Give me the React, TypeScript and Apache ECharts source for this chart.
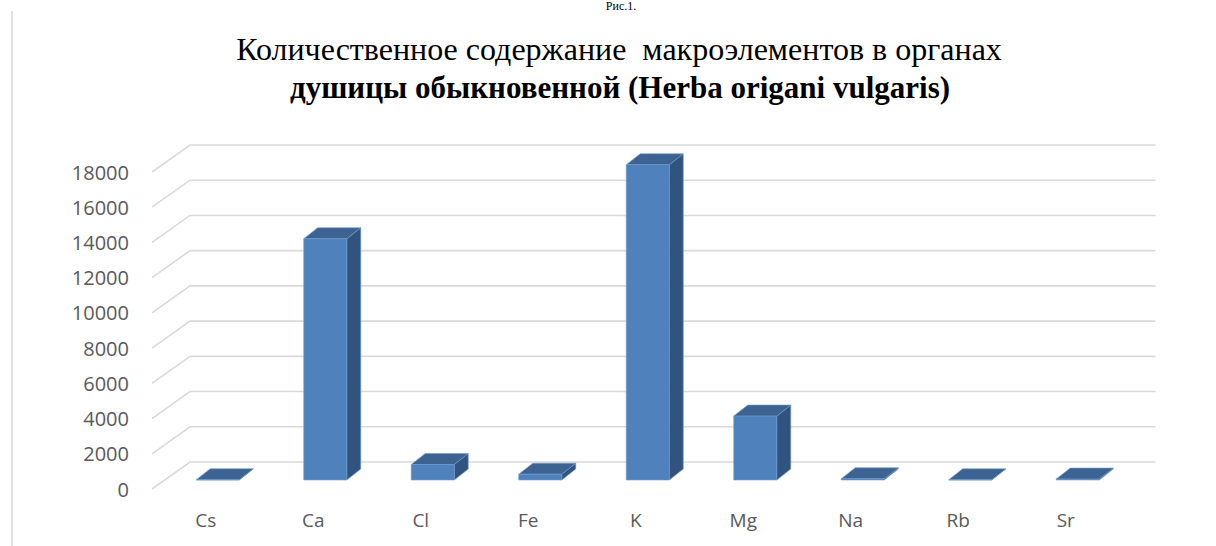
import React, { useEffect, useRef } from "react";
import * as echarts from "echarts";

const categories = ["Cs", "Ca", "Cl", "Fe", "K", "Mg", "Na", "Rb", "Sr"];
const values = [15, 13700, 880, 330, 17900, 3630, 70, 12, 50];
const yTicks = [0, 2000, 4000, 6000, 8000, 10000, 12000, 14000, 16000, 18000];
const titleLine1 = "Количественное содержание  макроэлементов в органах";
const titleLine2 = "душицы обыкновенной (Herba origani vulgaris)";
const figLabel = "Рис.1.";

const FRONT_DX = 12, FRONT_DY = -9; // bar front plane offset from floor front edge
const DEPTH_DX = 14, DEPTH_DY = -11; // bar depth
const WALL_DX = 38, WALL_DY = -27; // back wall offset

export default function App() {
  const ref = useRef<HTMLDivElement>(null);
  useEffect(() => {
    const chart = echarts.init(ref.current!, null, { renderer: "svg" });
    chart.setOption({
      animation: false,
      backgroundColor: "#ffffff",
      grid: { left: 152, top: 172, width: 967.5, height: 317 },
      xAxis: {
        type: "category",
        data: categories,
        axisLine: { show: false },
        axisTick: { show: false },
        axisLabel: { color: "#595959", fontSize: 19, fontFamily: "Open Sans", margin: 21 },
      },
      yAxis: {
        type: "value",
        min: 0,
        max: 18000,
        interval: 2000,
        axisLine: { show: false },
        axisTick: { show: false },
        splitLine: { show: false },
        axisLabel: {
          color: "#595959", fontSize: 20, fontFamily: "Open Sans", margin: 23,
          formatter: (v: number) => String(v),
        },
      },
      graphic: [
        {
          type: "line",
          shape: { x1: 12, y1: 11, x2: 12, y2: 546 },
          style: { stroke: "#d9d9d9", lineWidth: 1.5 },
        },
        {
          type: "text",
          style: {
            x: 621, y: 0, text: figLabel, align: "center", verticalAlign: "top",
            fontFamily: "Liberation Serif", fontSize: 12, fill: "#000",
          },
        },
        {
          type: "text",
          style: {
            x: 619, y: 49, text: titleLine1, align: "center", verticalAlign: "middle",
            fontFamily: "Liberation Serif", fontSize: 32, fill: "#000",
          },
        },
        {
          type: "text",
          style: {
            x: 620, y: 87, text: titleLine2, align: "center", verticalAlign: "middle",
            fontFamily: "Liberation Serif", fontSize: 31, fontWeight: "bold", fill: "#000",
          },
        },
      ],
      series: [
        {
          type: "custom",
          z: 1,
          data: yTicks.map((v) => [0, v]),
          encode: { x: 0, y: 1 },
          renderItem: (params: any, api: any) => {
            const cs = params.coordSys;
            const y = api.coord([0, api.value(1)])[1];
            return {
              type: "polyline",
              shape: {
                points: [
                  [cs.x, y],
                  [cs.x + WALL_DX, y + WALL_DY],
                  [cs.x + cs.width + 36, y + WALL_DY],
                ],
              },
              style: { stroke: "#d9d9d9", lineWidth: 1.6, fill: null },
            };
          },
        },
        {
          type: "custom",
          z: 2,
          data: values.map((v, i) => [i, v]),
          encode: { x: 0, y: 1 },
          renderItem: (params: any, api: any) => {
            const i = api.value(0);
            const v = api.value(1);
            const top = api.coord([i, v]);
            const base = api.coord([i, 0]);
            const w = api.size([1, 0])[0] * 0.4;
            const xL = top[0] + FRONT_DX - w / 2;
            const xR = xL + w;
            const yT = top[1] + FRONT_DY;
            const yB = base[1] + FRONT_DY;
            const edge = { stroke: "#6f98cc", lineWidth: 0.6 };
            return {
              type: "group",
              children: [
                {
                  type: "polygon",
                  shape: { points: [[xR, yT], [xR + DEPTH_DX, yT + DEPTH_DY], [xR + DEPTH_DX, yB + DEPTH_DY], [xR, yB]] },
                  style: { fill: "#31547e", ...edge },
                },
                {
                  type: "polygon",
                  shape: { points: [[xL, yT], [xR, yT], [xR + DEPTH_DX, yT + DEPTH_DY], [xL + DEPTH_DX, yT + DEPTH_DY]] },
                  style: { fill: "#3c6391", ...edge },
                },
                {
                  type: "rect",
                  shape: { x: xL, y: yT, width: w, height: Math.max(yB - yT, 0) },
                  style: { fill: "#4f81bd", ...edge },
                },
              ],
            };
          },
        },
      ],
    });
    return () => chart.dispose();
  }, []);
  return (
    <div
      ref={ref}
      style={{ position: "fixed", left: 0, top: 0, width: 1216, height: 546, background: "#fff" }}
    />
  );
}
